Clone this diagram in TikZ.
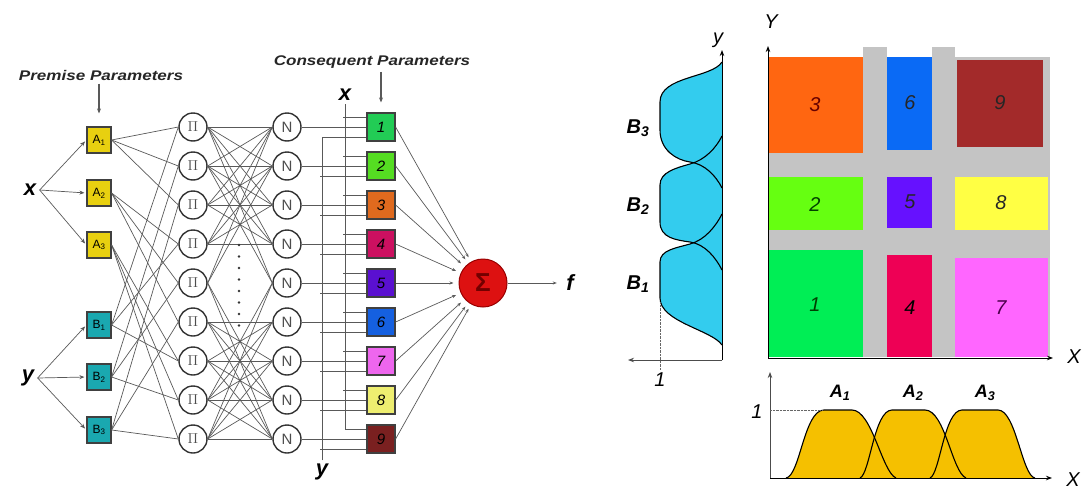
\documentclass[tikz,border=0pt]{standalone}
\usepackage{fontspec}
\setmainfont{Liberation Sans}
\usetikzlibrary{arrows.meta}
\definecolor{premY}{HTML}{E8D010}
\definecolor{premC}{HTML}{1AA8B0}
\definecolor{c1}{HTML}{22CC55}
\definecolor{c2}{HTML}{55DD22}
\definecolor{c3}{HTML}{E06A1E}
\definecolor{c4}{HTML}{CC1060}
\definecolor{c5}{HTML}{5A10D0}
\definecolor{c6}{HTML}{1560E0}
\definecolor{c7}{HTML}{EE66EE}
\definecolor{c8}{HTML}{EEEE70}
\definecolor{c9}{HTML}{7A2020}
\definecolor{g1}{HTML}{00EE55}
\definecolor{g2}{HTML}{66FF11}
\definecolor{g3}{HTML}{FF6611}
\definecolor{g4}{HTML}{EE0055}
\definecolor{g5}{HTML}{6611FF}
\definecolor{g6}{HTML}{0A6AF5}
\definecolor{g7}{HTML}{FF66FF}
\definecolor{g8}{HTML}{FFFF44}
\definecolor{g9}{HTML}{A32A2A}
\definecolor{gridgray}{HTML}{C4C4C4}
\definecolor{bellC}{HTML}{33CCEE}
\definecolor{bellG}{HTML}{F5C000}
\definecolor{sigred}{HTML}{DD1111}
\begin{document}
\begin{tikzpicture}[x=1pt,y=-1pt,
  conn/.style={draw=black!65, line width=0.7pt},
  arr/.style={-{Stealth[length=5pt,width=4pt]}},
  pnode/.style={circle, draw=black!80, line width=1.4pt, fill=white, minimum size=28pt, inner sep=0pt, font=\fontsize{15}{15}\selectfont, text=black!70},
  premA/.style={draw=black!75, fill=premY, line width=1.2pt, minimum width=24pt, minimum height=26pt, inner sep=0pt, font=\fontsize{12}{12}\selectfont},
  premB/.style={premA, fill=premC},
  cons/.style={draw=black!75, line width=1.2pt, minimum width=28pt, minimum height=28pt, inner sep=0pt, font=\fontsize{15}{15}\selectfont\itshape},
  lab/.style={font=\fontsize{22}{22}\selectfont\bfseries\itshape},
  axlab/.style={font=\fontsize{20}{20}\selectfont\itshape},
  ttl/.style={font=\fontsize{14}{14}\selectfont\bfseries\itshape, text=black!85},
  cell/.style={font=\fontsize{20}{20}\selectfont\itshape},
  bellline/.style={line width=1.1pt},
  blab/.style={font=\fontsize{20}{20}\selectfont\bfseries\itshape},
  alab/.style={font=\fontsize{18}{18}\selectfont\bfseries\itshape},
]
\useasboundingbox (0,0) rectangle (1088,501);

% ---------------- left network ----------------
\node[ttl] (pp) at (101,75) {\scalebox{1.22}[1]{Premise Parameters}};
\node[ttl] (cp) at (372,62) {\scalebox{1.22}[1]{Consequent Parameters}};

\node[premA] (A1) at (99,140) {A\textsubscript{1}};
\node[premA] (A2) at (99,193) {A\textsubscript{2}};
\node[premA] (A3) at (99,245) {A\textsubscript{3}};
\node[premB] (B1) at (99,325) {B\textsubscript{1}};
\node[premB] (B2) at (99,377) {B\textsubscript{2}};
\node[premB] (B3) at (99,430) {B\textsubscript{3}};

\node[lab] (xl) at (30,190) {x};
\node[lab] (yl) at (28,378) {y};

\draw[conn, arr, line width=1.2pt, shorten >=13pt] (pp.south -| A1) -- (A1.north);
\foreach \t in {A1,A2,A3} \draw[conn, arr, shorten >=2pt] (xl.east) -- (\t.west);
\foreach \t in {B1,B2,B3} \draw[conn, arr, shorten >=2pt] (yl.east) -- (\t.west);

\foreach \i/\y in {1/127,2/166,3/205,4/244,5/283,6/322,7/361,8/400,9/439}{
  \node[pnode] (P\i) at (193,\y) {$\Pi$};
  \node[pnode] (N\i) at (287,\y) {N};
}
\node[cons, fill=c1] (C1) at (381,127) {1};
\node[cons, fill=c2] (C2) at (381,166) {2};
\node[cons, fill=c3] (C3) at (381,205) {3};
\node[cons, fill=c4] (C4) at (381,244) {4};
\node[cons, fill=c5] (C5) at (381,283) {5};
\node[cons, fill=c6] (C6) at (381,322) {6};
\node[cons, fill=c7] (C7) at (381,361) {7};
\node[cons, fill=c8] (C8) at (381,400) {8};
\node[cons, fill=c9] (C9) at (381,439) {9};

\draw[conn, arr, line width=1.2pt, shorten >=10pt] (cp.south -| C1) -- (C1.north);

% premise -> product layer
\foreach \a/\p in {A1/1,A1/2,A1/3,A2/4,A2/5,A2/6,A3/7,A3/8,A3/9,B1/1,B1/4,B1/7,B2/2,B2/5,B2/8,B3/3,B3/6,B3/9}
  \draw[conn] (\a.east) -- (P\p.west);

% product -> normalisation layer
\foreach \i in {1,...,4} \foreach \j in {1,...,4} \draw[conn] (P\i.east) -- (N\j.west);
\foreach \i in {6,...,9} \foreach \j in {6,...,9} \draw[conn] (P\i.east) -- (N\j.west);
\foreach \j in {1,2,8,9} \draw[conn] (P5.east) -- (N\j.west);
\foreach \i in {1,2,8,9} \draw[conn] (P\i.east) -- (N5.west);
\foreach \k in {0,...,7} \fill[black!80] (239,245+\k*11.5) circle (1.4);

% normalisation -> consequent
\foreach \i in {1,...,9} \draw[conn] (N\i.east) -- (C\i.west);

% x and y inputs to consequent boxes
\node[lab] (xin) at (345,95) {x};
\node[lab] (yin) at (322,472) {y};
\coordinate (xend) at (345,429);
\coordinate (ytop) at (322,137);
\draw[conn] (xin.south) -- (xend) -- ([yshift=10pt]C9.west);
\draw[conn] (yin.north) -- (ytop) -- ([yshift=-10pt]C1.west);
\foreach \i in {1,...,8} \draw[conn] ([yshift=10pt]C\i.west) -- ++(-23,0);
\foreach \i in {2,...,9} \draw[conn] ([yshift=-10pt]C\i.west) -- ++(-46,0);

% sum node
\node[circle, fill=sigred, draw=red!60!black, line width=1pt, minimum size=48pt, inner sep=0pt,
      text=red!45!black, font=\fontsize{26}{26}\selectfont\bfseries] (sigma) at (483,283) {Σ};
\foreach \i in {1,...,9} \draw[conn, -{Stealth[length=4pt,width=3pt]}, shorten >=5pt] (C\i.east) -- (sigma);
\node[lab] (fout) at (570,283) {f};
\draw[conn, -{Stealth[length=4pt,width=3pt]}, shorten >=6pt] (sigma) -- (fout.west);

% ---------------- membership functions on y ----------------
\fill[bellC] (722,62) .. controls (712,78) and (660,76) .. (660,102) -- (660,130) .. controls (660,150) and (676,160) .. (690,162) .. controls (705,164) and (716,176) .. (722,188) -- cycle;
\fill[bellC] (722,136) .. controls (716,148) and (705,160) .. (690,164) .. controls (676,168) and (660,172) .. (660,185) -- (660,222) .. controls (660,238) and (676,240) .. (690,242) .. controls (705,244) and (716,258) .. (722,270) -- cycle;
\fill[bellC] (722,214) .. controls (716,226) and (705,240) .. (690,244) .. controls (676,248) and (660,250) .. (660,262) -- (660,298) .. controls (660,322) and (712,330) .. (722,345) -- cycle;
\draw[bellline] (722,62) .. controls (712,78) and (660,76) .. (660,102) -- (660,130) .. controls (660,150) and (676,160) .. (690,162) .. controls (705,164) and (716,176) .. (722,188);
\draw[bellline] (722,136) .. controls (716,148) and (705,160) .. (690,164) .. controls (676,168) and (660,172) .. (660,185) -- (660,222) .. controls (660,238) and (676,240) .. (690,242) .. controls (705,244) and (716,258) .. (722,270);
\draw[bellline] (722,214) .. controls (716,226) and (705,240) .. (690,244) .. controls (676,248) and (660,250) .. (660,262) -- (660,298) .. controls (660,322) and (712,330) .. (722,345);
\draw[line width=1pt, -{Stealth[length=6pt]}] (722,360) -- (722,50);
\draw[line width=0.8pt, black!70, -{Stealth[length=6pt]}] (722,360) -- (628,360);
\draw[densely dotted, black!60] (660,302) -- (660,370);
\node[axlab] (ylab) at (718,40) {y};
\node[axlab] (one1) at (660,380) {1};
\node[blab] (lB3) at (638,128) {B\textsubscript{3}};
\node[blab] (lB2) at (638,206) {B\textsubscript{2}};
\node[blab] (lB1) at (638,284) {B\textsubscript{1}};

% ---------------- rule grid ----------------
\fill[gridgray] (768,57) rectangle (1050,357);
\fill[gridgray] (863,47) rectangle (887,57);
\fill[gridgray] (932,47) rectangle (955,57);
\fill[g3] (768,57) rectangle (863,153);
\fill[g6] (887,57) rectangle (932,150);
\fill[g9] (957,60) rectangle (1043,147);
\fill[g2] (768,177) rectangle (863,230);
\fill[g5] (887,177) rectangle (932,228);
\fill[g8] (955,177) rectangle (1048,230);
\fill[g1] (768,250) rectangle (863,357);
\fill[g4] (887,255) rectangle (932,357);
\fill[g7] (955,258) rectangle (1048,357);
\node[cell, text=red!40!black] (n3) at (815,105) {3};
\node[cell, text=black!85] (n6) at (910,103) {6};
\node[cell, text=black!85] (n9) at (1000,103) {9};
\node[cell, text=green!25!black] (n2) at (815,205) {2};
\node[cell, text=black!85] (n5) at (910,202) {5};
\node[cell, text=black!85] (n8) at (1001,203) {8};
\node[cell, text=green!25!black] (n1) at (815,305) {1};
\node[cell, text=black] (n4) at (910,308) {4};
\node[cell, text=violet!60!black] (n7) at (1001,308) {7};
\draw[line width=1pt, -{Stealth[length=6pt]}] (768,358) -- (768,46);
\draw[line width=1pt, -{Stealth[length=6pt]}] (768,358) -- (1053,358);
\node[axlab] (Ylab) at (771,22) {Y};
\node[axlab] (Xlab1) at (1074,357) {X};

% ---------------- membership functions on x ----------------
\fill[bellG] (786,478) .. controls (800,476) and (804,410) .. (824,410) -- (852,410) .. controls (872,410) and (882,472) .. (896,478) -- cycle;
\fill[bellG] (860,478) .. controls (870,474) and (874,410) .. (892,410) -- (925,410) .. controls (945,410) and (952,472) .. (966,478) -- cycle;
\fill[bellG] (930,478) .. controls (940,474) and (944,410) .. (962,410) -- (998,410) .. controls (1016,410) and (1022,476) .. (1035,478) -- cycle;
\draw[bellline] (786,478) .. controls (800,476) and (804,410) .. (824,410) -- (852,410) .. controls (872,410) and (882,472) .. (896,478);
\draw[bellline] (860,478) .. controls (870,474) and (874,410) .. (892,410) -- (925,410) .. controls (945,410) and (952,472) .. (966,478);
\draw[bellline] (930,478) .. controls (940,474) and (944,410) .. (962,410) -- (998,410) .. controls (1016,410) and (1022,476) .. (1035,478);
\draw[line width=1pt, -{Stealth[length=6pt]}] (770,478) -- (1052,478);
\draw[line width=0.8pt, black!70, -{Stealth[length=6pt]}] (770,478) -- (770,372);
\draw[densely dotted, black!60] (770,410) -- (822,410);
\node[axlab] (one2) at (757,412) {1};
\node[axlab] (Xlab2) at (1073,480) {X};
\node[alab] (lA1) at (840,393) {A\textsubscript{1}};
\node[alab] (lA2) at (913,393) {A\textsubscript{2}};
\node[alab] (lA3) at (985,393) {A\textsubscript{3}};
\end{tikzpicture}
\end{document}
